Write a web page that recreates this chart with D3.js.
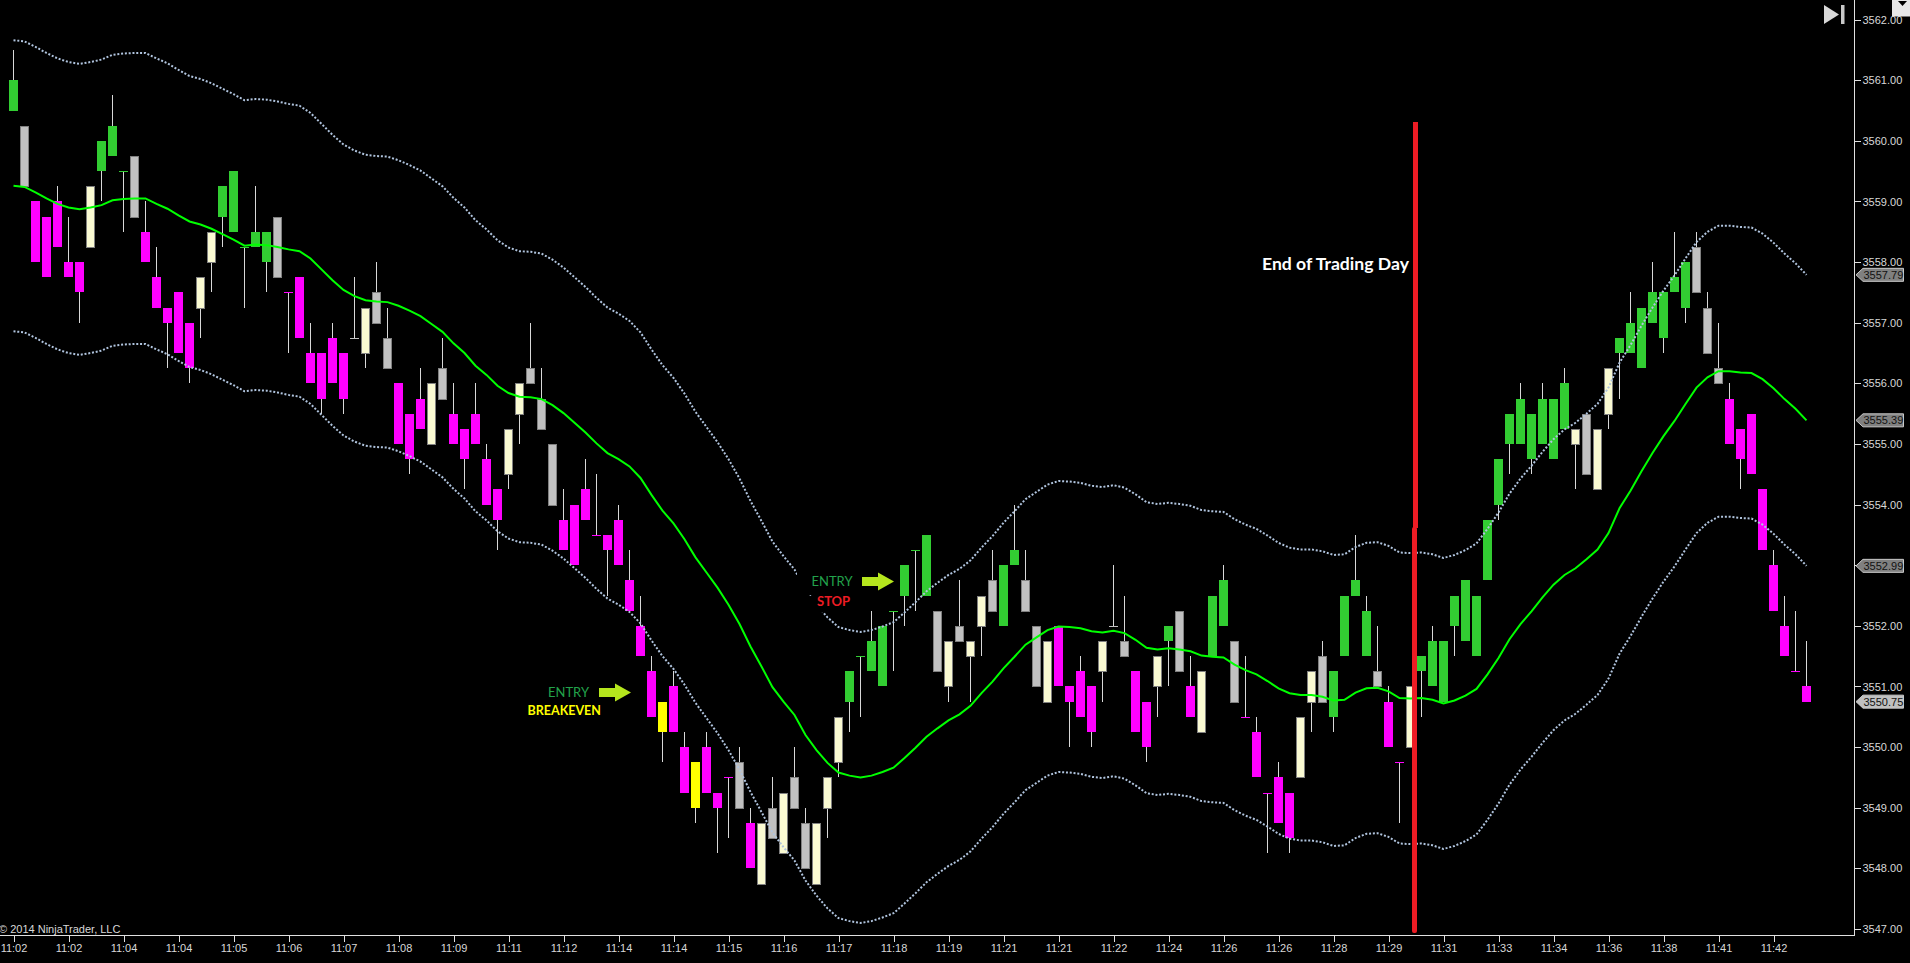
<!DOCTYPE html>
<html>
<head>
<meta charset="utf-8">
<script src="https://cdn.jsdelivr.net/npm/d3@7"></script>
<style>
  html, body { margin: 0; padding: 0; background: #000; overflow: hidden; }
  svg { display: block; }
  text { font-family: "Liberation Sans", Arial, sans-serif; }
  .note { font-family: Lato, "Open Sans", sans-serif; }
</style>
</head>
<body>
<div id="viz"></div>
<script>
const barTop = [3561,3560.25,3559,3558.75,3559,3558,3558,3559.25,3560,3560.25,
  3559.5,3559.75,3558.5,3557.75,3557.25,3557.5,3557,3557.75,3558.5,3559.25,
  3559.5,3558.25,3558.5,3558.5,3558.75,3557.5,3557.75,3556.5,3556.5,3556.75,
  3556.5,3556.75,3557.25,3557.5,3556.75,3556,3555.5,3555.75,3556,3556.25,
  3555.5,3555.25,3555.5,3554.75,3554.25,3555.25,3556,3556.25,3555.75,3555,
  3553.75,3554,3554.25,3553.5,3553.5,3553.75,3552.75,3552,3551.25,3550.75,
  3551,3550,3549.75,3550,3549.25,3549.5,3549.75,3548.75,3548.75,3549,
  3549.25,3549.5,3548.75,3548.75,3549.5,3550.5,3551.25,3551.5,3551.75,3552,
  3552.25,3553,3553.25,3553.5,3552.25,3551.75,3552,3551.75,3552.5,3552.75,
  3553,3553.25,3552.75,3552,3551.75,3552,3551,3551.25,3551,3551.75,
  3552,3551.75,3551.25,3550.75,3551.5,3552,3552.25,3551,3551.25,3552.5,
  3552.75,3551.75,3550.5,3550.25,3549.25,3549.5,3549.25,3550.5,3551.25,3551.5,
  3551.25,3552.5,3552.75,3552.25,3551.25,3550.75,3549.75,3551,3551.5,3551.75,
  3551.75,3552.5,3552.75,3552.5,3553.75,3554.75,3555.5,3555.75,3555.5,3555.75,
  3555.75,3556,3555.25,3555.5,3555.25,3556.25,3556.75,3557,3557.25,3557.5,
  3557.5,3557.75,3558,3558.25,3557.25,3556.25,3555.75,3555.25,3555.5,3554.25,
  3553,3552,3551.25,3551];

const barBottom = [3560.5,3559.25,3558,3557.75,3558.25,3557.75,3557.5,3558.25,3559.5,3559.75,
  3559.5,3558.75,3558,3557.25,3557,3556.5,3556.25,3557.25,3558,3558.75,
  3558.5,3558.25,3558.25,3558,3557.75,3557.5,3556.75,3556,3555.75,3556,
  3555.75,3556.75,3556.5,3557,3556.25,3555,3554.75,3555.25,3555,3555.75,
  3555,3554.75,3555,3554,3553.75,3554.5,3555.5,3556,3555.25,3554,
  3553.25,3553,3553.75,3553.5,3553.25,3553,3552.25,3551.5,3550.5,3550.25,
  3550.25,3549.25,3549,3549.25,3549,3549.5,3549,3548,3547.75,3548.5,
  3548.25,3549,3548,3547.75,3549,3549.75,3550.75,3551.5,3551.25,3551,
  3552.25,3552.5,3553.25,3552.5,3551.25,3551,3551.75,3551.5,3552,3552.25,
  3552,3553,3552.25,3551,3550.75,3551,3550.75,3550.5,3550.25,3551.25,
  3552,3551.5,3550.25,3550,3551,3551.75,3551.25,3550.5,3550.25,3551.5,
  3552,3550.75,3550.5,3549.5,3549.25,3548.75,3548.5,3549.5,3550.75,3550.75,
  3550.5,3551.5,3552.5,3551.5,3551,3550,3549.75,3550,3551.25,3551,
  3550.75,3552,3551.75,3551.5,3552.75,3554,3555,3555,3554.75,3555,
  3554.75,3555.25,3555,3554.5,3554.25,3555.5,3556.5,3556.5,3556.25,3557,
  3556.75,3557.5,3557.25,3557.5,3556.5,3556,3555,3554.75,3554.5,3553.25,
  3552.25,3551.5,3551.25,3550.75];

const barHigh = [3561.5,3560.25,3559,3558.75,3559.25,3558.75,3558,3559.25,3560,3560.75,
  3559.5,3559.75,3559,3558.25,3557.25,3557.5,3557,3557.75,3558.5,3559.25,
  3559.5,3558.25,3559.25,3558.5,3558.75,3557.5,3557.75,3557,3556.5,3557,
  3556.5,3557.75,3557.25,3558,3557.25,3556,3555.5,3556.25,3556,3556.75,
  3556,3555.25,3556,3555,3554.25,3555.25,3556,3557,3556.25,3555,
  3554.25,3554,3554.75,3554.5,3553.5,3554,3553.25,3552.5,3551.5,3550.75,
  3551.25,3550.25,3549.75,3550.25,3549.25,3549.5,3550,3549,3548.75,3549.5,
  3549.25,3550,3549,3548.75,3549.5,3550.5,3551.25,3551.5,3552.25,3552,
  3552.25,3553,3553.25,3553.5,3552.25,3551.75,3552.75,3551.75,3552.5,3553.25,
  3553,3554,3553.25,3552,3551.75,3552,3551,3551.5,3551,3551.75,
  3553,3552.5,3551.25,3550.75,3551.5,3552,3552.25,3551.5,3551.25,3552.5,
  3553,3551.75,3551.5,3550.5,3549.25,3549.75,3549.25,3550.5,3551.25,3551.75,
  3551.25,3552.5,3553.5,3552.5,3552,3551,3549.75,3551,3551.5,3552,
  3551.75,3552.5,3552.75,3552.5,3553.75,3554.75,3555.5,3556,3555.5,3556,
  3555.75,3556.25,3555.25,3555.5,3555.25,3556.25,3556.75,3557.5,3557.25,3558,
  3557.5,3558.5,3558,3558.5,3557.5,3557,3556,3555.25,3555.5,3554.25,
  3553.25,3552.5,3552.25,3551.75];

const barLow = [3560.5,3559.25,3558,3557.75,3558.25,3557.75,3557,3558.25,3559,3559.75,
  3558.5,3558.75,3558,3557.25,3556.25,3556.5,3556,3556.75,3557.5,3558.25,
  3558.5,3557.25,3558.25,3557.5,3557.75,3556.5,3556.75,3556,3555.5,3556,
  3555.5,3556.75,3556.25,3557,3556.25,3555,3554.5,3555.25,3555,3555.75,
  3555,3554.25,3555,3554,3553.25,3554.25,3555,3556,3555.25,3554,
  3553.25,3553,3553.75,3553.5,3552.5,3553,3552.25,3551.5,3550.5,3549.75,
  3550.25,3549.25,3548.75,3549.25,3548.25,3548.5,3549,3548,3547.75,3548.5,
  3548.25,3549,3548,3547.75,3548.5,3549.5,3550.25,3550.5,3551.25,3551,
  3551.25,3552,3552.25,3552.5,3551.25,3550.75,3551.75,3550.75,3551.5,3552.25,
  3552,3553,3552.25,3551,3550.75,3551,3550,3550.5,3550,3550.75,
  3552,3551.5,3550.25,3549.75,3550.5,3551,3551.25,3550.5,3550.25,3551.5,
  3552,3550.75,3550.5,3549.5,3548.25,3548.75,3548.25,3549.5,3550.25,3550.75,
  3550.25,3551.5,3552.5,3551.5,3551,3550,3548.75,3550,3550.5,3551,
  3550.75,3551.5,3551.75,3551.5,3552.75,3553.75,3554.5,3555,3554.5,3555,
  3554.75,3555.25,3554.25,3554.5,3554.25,3555.25,3555.75,3556.5,3556.25,3557,
  3556.5,3557.5,3557,3557.5,3556.5,3556,3555,3554.25,3554.5,3553.25,
  3552.25,3551.5,3551.25,3550.75];

// g green, m magenta, c cream, s silver, y yellow, ten bars per row
const barKind = [
  'gsmmmmmcgg', 'gsmmmmmccg', 'ggggsmmmmm', 'mscssmmmcs',
  'mmmmmccsss', 'mmmmmmmmmy', 'mmymmmsmcs', 'csscccgggg',
  'ggggscsccs', 'ggsscmmmmc', 'ssmmcgsmcg', 'gsmmmmmccs',
  'ggggsmmcgg', 'gggggggggg', 'ggcsccgggg', 'gggsssmmmm',
  'mmmm'
].join('').split('');

const emaMid = [3559.26,3559.24,3559.15,3559.05,3558.96,3558.90,3558.87,3558.90,3558.94,3559.02,
  3559.04,3559.05,3559.05,3558.96,3558.88,3558.77,3558.67,3558.62,3558.55,3558.46,
  3558.37,3558.27,3558.29,3558.28,3558.25,3558.21,3558.18,3558.06,3557.88,3557.70,
  3557.54,3557.44,3557.37,3557.35,3557.34,3557.28,3557.20,3557.11,3556.98,3556.85,
  3556.66,3556.50,3556.29,3556.14,3555.96,3555.84,3555.78,3555.77,3555.74,3555.64,
  3555.51,3555.35,3555.19,3555.01,3554.85,3554.75,3554.63,3554.44,3554.16,3553.90,
  3553.69,3553.43,3553.13,3552.88,3552.63,3552.35,3552.03,3551.66,3551.33,3550.99,
  3550.75,3550.53,3550.20,3549.95,3549.74,3549.58,3549.53,3549.50,3549.53,3549.59,
  3549.66,3549.82,3549.99,3550.17,3550.31,3550.44,3550.54,3550.68,3550.89,3551.08,
  3551.30,3551.49,3551.69,3551.81,3551.93,3551.99,3551.98,3551.96,3551.91,3551.89,
  3551.92,3551.88,3551.77,3551.64,3551.61,3551.63,3551.61,3551.58,3551.51,3551.49,
  3551.48,3551.36,3551.27,3551.20,3551.09,3550.97,3550.89,3550.86,3550.86,3550.83,
  3550.77,3550.78,3550.90,3550.97,3550.98,3550.92,3550.81,3550.80,3550.81,3550.78,
  3550.72,3550.77,3550.85,3550.96,3551.20,3551.47,3551.78,3552.03,3552.24,3552.47,
  3552.68,3552.84,3552.95,3553.10,3553.26,3553.53,3553.94,3554.23,3554.55,3554.85,
  3555.13,3555.38,3555.66,3555.93,3556.10,3556.20,3556.20,3556.18,3556.17,3556.07,
  3555.92,3555.74,3555.58,3555.39];

const bandUpper = [3561.66,3561.64,3561.55,3561.45,3561.36,3561.30,3561.27,3561.30,3561.34,3561.42,
  3561.44,3561.45,3561.45,3561.36,3561.28,3561.17,3561.07,3561.02,3560.95,3560.86,
  3560.77,3560.67,3560.69,3560.68,3560.65,3560.61,3560.58,3560.46,3560.28,3560.10,
  3559.94,3559.84,3559.77,3559.75,3559.74,3559.68,3559.60,3559.51,3559.38,3559.25,
  3559.06,3558.90,3558.69,3558.54,3558.36,3558.24,3558.18,3558.17,3558.14,3558.04,
  3557.91,3557.75,3557.59,3557.41,3557.25,3557.15,3557.03,3556.84,3556.56,3556.30,
  3556.09,3555.83,3555.53,3555.28,3555.03,3554.75,3554.43,3554.06,3553.73,3553.39,
  3553.15,3552.93,3552.60,3552.35,3552.14,3551.98,3551.93,3551.90,3551.93,3551.99,
  3552.06,3552.22,3552.39,3552.57,3552.71,3552.84,3552.94,3553.08,3553.29,3553.48,
  3553.70,3553.89,3554.09,3554.21,3554.33,3554.39,3554.38,3554.36,3554.31,3554.29,
  3554.32,3554.28,3554.17,3554.04,3554.01,3554.03,3554.01,3553.98,3553.91,3553.89,
  3553.88,3553.76,3553.67,3553.60,3553.49,3553.37,3553.29,3553.26,3553.26,3553.23,
  3553.17,3553.18,3553.30,3553.37,3553.38,3553.32,3553.21,3553.20,3553.21,3553.18,
  3553.12,3553.17,3553.25,3553.36,3553.60,3553.87,3554.18,3554.43,3554.64,3554.87,
  3555.08,3555.24,3555.35,3555.50,3555.66,3555.93,3556.34,3556.63,3556.95,3557.25,
  3557.53,3557.78,3558.06,3558.33,3558.50,3558.60,3558.60,3558.58,3558.57,3558.47,
  3558.32,3558.14,3557.98,3557.79];

const bandLower = [3556.86,3556.84,3556.75,3556.65,3556.56,3556.50,3556.47,3556.50,3556.54,3556.62,
  3556.64,3556.65,3556.65,3556.56,3556.48,3556.37,3556.27,3556.22,3556.15,3556.06,
  3555.97,3555.87,3555.89,3555.88,3555.85,3555.81,3555.78,3555.66,3555.48,3555.30,
  3555.14,3555.04,3554.97,3554.95,3554.94,3554.88,3554.80,3554.71,3554.58,3554.45,
  3554.26,3554.10,3553.89,3553.74,3553.56,3553.44,3553.38,3553.37,3553.34,3553.24,
  3553.11,3552.95,3552.79,3552.61,3552.45,3552.35,3552.23,3552.04,3551.76,3551.50,
  3551.29,3551.03,3550.73,3550.48,3550.23,3549.95,3549.63,3549.26,3548.93,3548.59,
  3548.35,3548.13,3547.80,3547.55,3547.34,3547.18,3547.13,3547.10,3547.13,3547.19,
  3547.26,3547.42,3547.59,3547.77,3547.91,3548.04,3548.14,3548.28,3548.49,3548.68,
  3548.90,3549.09,3549.29,3549.41,3549.53,3549.59,3549.58,3549.56,3549.51,3549.49,
  3549.52,3549.48,3549.37,3549.24,3549.21,3549.23,3549.21,3549.18,3549.11,3549.09,
  3549.08,3548.96,3548.87,3548.80,3548.69,3548.57,3548.49,3548.46,3548.46,3548.43,
  3548.37,3548.38,3548.50,3548.57,3548.58,3548.52,3548.41,3548.40,3548.41,3548.38,
  3548.32,3548.37,3548.45,3548.56,3548.80,3549.07,3549.38,3549.63,3549.84,3550.07,
  3550.28,3550.44,3550.55,3550.70,3550.86,3551.13,3551.54,3551.83,3552.15,3552.45,
  3552.73,3552.98,3553.26,3553.53,3553.70,3553.80,3553.80,3553.78,3553.77,3553.67,
  3553.52,3553.34,3553.18,3552.99];

const timeLabels = ['11:02','11:02','11:04','11:04','11:05','11:06','11:07','11:08','11:09','11:11',
  '11:12','11:14','11:14','11:15','11:16','11:17','11:18','11:19','11:21','11:21',
  '11:22','11:24','11:26','11:26','11:28','11:29','11:31','11:33','11:34','11:36',
  '11:38','11:41','11:42'];
const priceTicks = [3547,3548,3549,3550,3551,3552,3553,3554,3555,3556,3557,3558,3559,3560,3561,3562];
const tagValues = [3557.79, 3555.39, 3552.99, 3550.75];
const tagFills = ['#808080', '#808080', '#808080', '#c0c0c0'];

const width = 1910, height = 963;
const axisX = 1854.5, axisY = 935.5;

const kindFill = { g: '#32cd32', m: '#ff00ff', c: '#fafad2', s: '#c0c0c0', y: '#ffff00' };

let x = d3.scaleLinear().domain([0, barTop.length - 1]).range([13.5, 1806.5]);
let y = d3.scaleLinear().domain([3547, 3562]).range([929, 19.6]);

let svg = d3.select('#viz').append('svg')
  .attr('width', width)
  .attr('height', height)
  .style('background', '#000');

// wicks
svg.append('g').selectAll('line')
  .data(barTop)
  .join('line')
  .attr('x1', (d, i) => x(i))
  .attr('x2', (d, i) => x(i))
  .attr('y1', (d, i) => y(barHigh[i]))
  .attr('y2', (d, i) => y(barLow[i]))
  .attr('stroke', '#d8d8d8')
  .attr('shape-rendering', 'crispEdges');

// bodies, the cream and silver ones carry a grey outline
const outlined = i => (barKind[i] === 'c' || barKind[i] === 's') && barTop[i] !== barBottom[i];
svg.append('g').selectAll('rect')
  .data(barTop)
  .join('rect')
  .attr('x', (d, i) => x(i) - (outlined(i) ? 4 : 4.5))
  .attr('width', (d, i) => outlined(i) ? 8 : 9)
  .attr('y', (d, i) => Math.round(y(barTop[i])) + (outlined(i) ? 0.5 : 0))
  .attr('height', (d, i) => Math.max(1, Math.round(y(barBottom[i])) - Math.round(y(barTop[i]))))
  .attr('fill', (d, i) => kindFill[barKind[i]])
  .attr('stroke', (d, i) => outlined(i) ? '#808080' : 'none');

let line = d3.line()
  .x((d, i) => x(i))
  .y(d => y(d));

svg.append('path')
  .datum(bandUpper)
  .attr('d', line)
  .attr('fill', 'none')
  .attr('stroke', '#b0c4de')
  .attr('stroke-width', 2)
  .attr('stroke-dasharray', '2 1.8');

svg.append('path')
  .datum(bandLower)
  .attr('d', line)
  .attr('fill', 'none')
  .attr('stroke', '#b0c4de')
  .attr('stroke-width', 2)
  .attr('stroke-dasharray', '2 1.8');

svg.append('path')
  .datum(emaMid)
  .attr('d', line)
  .attr('fill', 'none')
  .attr('stroke', '#00ff00')
  .attr('stroke-width', 2);

// axes
let xAxis = d3.axisBottom(x)
  .tickValues(timeLabels.map((d, i) => i * 5))
  .tickFormat((d, i) => timeLabels[i])
  .tickSize(6)
  .tickPadding(3);

svg.append('g')
  .attr('transform', `translate(0,${axisY})`)
  .call(xAxis)
  .call(g => g.select('.domain').remove())
  .call(g => g.selectAll('line').attr('stroke', '#e0e0e0').attr('shape-rendering', 'crispEdges'))
  .call(g => g.selectAll('text').attr('fill', '#d8d8d8').style('font-size', '11px').style('font-family', '"Liberation Sans"'))
  .append('line')
  .attr('x1', 0)
  .attr('x2', axisX)
  .attr('stroke', '#e0e0e0')
  .attr('shape-rendering', 'crispEdges');

let yAxis = d3.axisRight(y)
  .tickValues(priceTicks)
  .tickFormat(d3.format('.2f'))
  .tickSize(6)
  .tickPadding(2);

svg.append('g')
  .attr('transform', `translate(${axisX},0)`)
  .call(yAxis)
  .call(g => g.select('.domain').remove())
  .call(g => g.selectAll('line').attr('stroke', '#e0e0e0').attr('shape-rendering', 'crispEdges'))
  .call(g => g.selectAll('text').attr('fill', '#d8d8d8').style('font-size', '11px').style('font-family', '"Liberation Sans"'))
  .append('line')
  .attr('y1', 0)
  .attr('y2', axisY)
  .attr('stroke', '#e0e0e0')
  .attr('shape-rendering', 'crispEdges');

// price tags on the right axis
let tags = svg.append('g').selectAll('g')
  .data(tagValues)
  .join('g')
  .attr('transform', d => `translate(0,${y(d)})`);

tags.append('path')
  .attr('d', 'M1856,0 L1863,-6.5 L1903.5,-6.5 L1903.5,6.5 L1863,6.5 Z')
  .attr('fill', (d, i) => tagFills[i])
  .attr('stroke', '#c8c8c8');

tags.append('text')
  .attr('x', 1863.5)
  .attr('y', 4)
  .attr('fill', '#111')
  .style('font-size', '11px')
  .text(d => d.toFixed(2));

// black patches behind the notes, they cut the dotted band
svg.append('rect').attr('x', 797).attr('y', 566).attr('width', 60).attr('height', 29).attr('fill', '#000');
svg.append('rect').attr('x', 806).attr('y', 596).attr('width', 47).attr('height', 16).attr('fill', '#000');

function note(str, px, py, color, size, weight) {
  svg.append('text')
    .attr('class', 'note')
    .attr('x', px)
    .attr('y', py)
    .attr('fill', color)
    .style('font-size', size + 'px')
    .style('font-weight', weight)
    .text(str);
}

note('ENTRY', 811.5, 586, '#22a24b', 13, 400);
note('STOP', 817, 606, '#ed1c24', 13, 700);
note('ENTRY', 548, 697, '#22a24b', 13, 400);
note('BREAKEVEN', 527.5, 715, '#ffff00', 12.5, 700);
note('End of Trading Day', 1262, 270, '#ffffff', 17.6, 700);

function arrow(px, py) {
  svg.append('path')
    .attr('d', `M${px},${py - 4.5} h16 v-4.5 L${px + 32},${py} L${px + 16},${py + 9} v-4.5 h-16 Z`)
    .attr('fill', '#b5e61d');
}
arrow(862, 581.5);
arrow(599, 692.5);

// end of trading day marker
svg.append('rect').attr('x', 1413).attr('y', 122).attr('width', 5).attr('height', 406).attr('fill', '#ed1c24');
svg.append('rect').attr('x', 1412).attr('y', 527).attr('width', 5).attr('height', 406).attr('rx', 2).attr('fill', '#ed1c24');

svg.append('text')
  .attr('x', -1)
  .attr('y', 933)
  .attr('fill', '#d8d8d8')
  .style('font-size', '11px')
  .text('© 2014 NinjaTrader, LLC');

// jump-to-end icon and the scale button
svg.append('path').attr('d', 'M1824,5 L1839,14.5 L1824,24 Z').attr('fill', '#d8d8d8');
svg.append('rect').attr('x', 1841).attr('y', 5).attr('width', 3.5).attr('height', 19).attr('fill', '#c8c8c8');
svg.append('rect').attr('x', 1892).attr('y', 0).attr('width', 18).attr('height', 16.5).attr('fill', '#e8e8e8');
svg.append('path').attr('d', 'M1898,1 L1907,1 L1902.5,6 Z').attr('fill', '#000');
</script>
</body>
</html>
